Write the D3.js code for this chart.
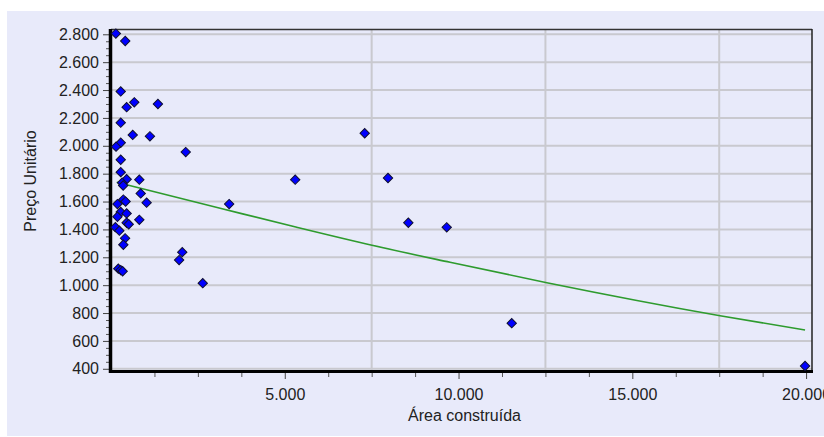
<!DOCTYPE html>
<html>
<head>
<meta charset="utf-8">
<script src="https://cdn.jsdelivr.net/npm/d3@7"></script>
<style>
  html, body { margin: 0; padding: 0; background: #ffffff; }
  svg { display: block; }
  text { font-family: "Liberation Sans", Arial, sans-serif; }
</style>
</head>
<body>
<svg id="chart" width="824" height="437"></svg>
<script>
// Observed samples: built area (m²) vs. unit price
const area = [140, 410, 280, 450, 670, 1350, 280, 625, 1120, 280, 145, 2150, 280, 280,
  450, 815, 320, 350, 855, 1025, 355, 420, 185, 280, 450, 185, 815, 450, 510, 125,
  240, 405, 355, 210, 280, 335, 2050, 1960, 2640, 3400, 5300, 7300, 7970, 8555,
  9660, 11530, 19970];
const unitPrice = [2805, 2752, 2390, 2277, 2312, 2300, 2166, 2078, 2068, 2022, 1994, 1955,
  1900, 1811, 1760, 1757, 1735, 1715, 1658, 1592, 1614, 1600, 1582, 1525, 1515, 1491,
  1469, 1448, 1437, 1416, 1391, 1336, 1290, 1118, 1108, 1100, 1237, 1180, 1014, 1582,
  1757, 2090, 1769, 1448, 1415, 727, 420];

// Fitted trend curve, sampled along its length
const trendArea = [165, 3140, 5345, 7510, 9755, 12540, 17525, 19970];
const trendPrice = [1738, 1552, 1415, 1286, 1164, 1018, 781, 678];

// Axis ticks
const xTickValues = [5000, 10000, 15000, 20000];
const xGridValues = [7500, 12500, 17500];
const yTickValues = [400, 600, 800, 1000, 1200, 1400, 1600, 1800, 2000, 2200, 2400, 2600, 2800];

const xTitle = "Área construída";
const yTitle = "Preço Unitário";

const ptBR = d3.formatLocale({ decimal: ",", thousands: ".", grouping: [3], currency: ["R$", ""] });
const fmt = ptBR.format(",d");

const svg = d3.select("#chart");
const plot = { left: 111, right: 812, top: 29, bottom: 372 };

const x = d3.scaleLinear().domain([0, 20170]).range([plot.left, plot.right]);
const y = d3.scaleLinear().domain([377, 2838]).range([plot.bottom, plot.top]);

// Panel background
svg.append("rect")
  .attr("x", 7).attr("y", 11).attr("width", 824 - 7).attr("height", 436 - 11)
  .attr("fill", "#e8eafa");

// Grid
const grid = svg.append("g").attr("stroke", "#c9c9cf").attr("stroke-width", 2);
grid.selectAll("line.h").data(yTickValues).join("line")
  .attr("class", "h")
  .attr("x1", plot.left).attr("x2", plot.right)
  .attr("y1", d => y(d)).attr("y2", d => y(d));
grid.selectAll("line.v").data(xGridValues).join("line")
  .attr("class", "v")
  .attr("x1", d => x(d)).attr("x2", d => x(d))
  .attr("y1", plot.top).attr("y2", plot.bottom);

// Minor ticks
const yMinor = d3.range(400, 2801, 50).filter(v => v % 200 !== 0);
const xMinor = d3.range(1250, 20001, 1250).filter(v => v % 5000 !== 0);

svg.append("g")
  .attr("transform", `translate(109,0)`)
  .call(d3.axisLeft(y).tickValues(yMinor).tickSize(3).tickFormat("").tickSizeOuter(0))
  .call(g => g.select(".domain").remove())
  .call(g => g.selectAll("line").attr("stroke", "#555"));

svg.append("g")
  .attr("transform", `translate(0,373)`)
  .call(d3.axisBottom(x).tickValues(xMinor).tickSize(4).tickFormat("").tickSizeOuter(0))
  .call(g => g.select(".domain").remove())
  .call(g => g.selectAll("line").attr("stroke", "#555"));

// Major ticks and labels
svg.append("g")
  .attr("transform", `translate(109,0)`)
  .call(d3.axisLeft(y).tickValues(yTickValues).tickSize(6).tickPadding(4).tickFormat(fmt).tickSizeOuter(0))
  .call(g => g.select(".domain").remove())
  .call(g => g.selectAll("line").attr("stroke", "#444"))
  .call(g => g.selectAll("text").attr("font-size", 16).attr("fill", "#222")
    .attr("font-family", '"Liberation Sans", Arial, sans-serif'));

svg.append("g")
  .attr("transform", `translate(0,373)`)
  .call(d3.axisBottom(x).tickValues(xTickValues).tickSize(6).tickPadding(9.5).tickFormat(fmt).tickSizeOuter(0))
  .call(g => g.select(".domain").remove())
  .call(g => g.selectAll("line").attr("stroke", "#444"))
  .call(g => g.selectAll("text").attr("font-size", 16).attr("fill", "#222")
    .attr("font-family", '"Liberation Sans", Arial, sans-serif'));

// Plot frame: heavy left/bottom axes, thin top/right edges
svg.append("line").attr("x1", plot.left).attr("x2", plot.right).attr("y1", 29.5).attr("y2", 29.5)
  .attr("stroke", "#333").attr("stroke-width", 1.5);
svg.append("line").attr("x1", 812).attr("x2", 812).attr("y1", 29).attr("y2", 373)
  .attr("stroke", "#222").attr("stroke-width", 1.5);
svg.append("line").attr("x1", 110.5).attr("x2", 110.5).attr("y1", 29).attr("y2", 373)
  .attr("stroke", "#000").attr("stroke-width", 3.5);
svg.append("line").attr("x1", 109).attr("x2", 813).attr("y1", 371.5).attr("y2", 371.5)
  .attr("stroke", "#000").attr("stroke-width", 3);

// Trend curve
const trend = trendArea.map((a, i) => [a, trendPrice[i]]);
svg.append("path")
  .datum(trend)
  .attr("fill", "none")
  .attr("stroke", "#2e9b2e")
  .attr("stroke-width", 1.6)
  .attr("d", d3.line().x(d => x(d[0])).y(d => y(d[1])).curve(d3.curveMonotoneX));

// Sample points as diamonds
const points = area.map((a, i) => [a, unitPrice[i]]);
const diamond = d3.symbol().type(d3.symbolSquare).size(44);
svg.append("g").selectAll("path").data(points).join("path")
  .attr("d", diamond)
  .attr("transform", d => `translate(${x(d[0])},${y(d[1])}) rotate(45)`)
  .attr("fill", "#0000ff")
  .attr("stroke", "#101030")
  .attr("stroke-width", 1);

// Axis titles
svg.append("text")
  .attr("x", x(10000) + (x(20170) - x(20000)) / 2 + 3)
  .attr("y", 421)
  .attr("text-anchor", "middle")
  .attr("font-size", 16)
  .attr("fill", "#222")
  .text(xTitle);

svg.append("text")
  .attr("transform", "translate(36,181) rotate(-90)")
  .attr("text-anchor", "middle")
  .attr("font-size", 16)
  .attr("fill", "#222")
  .text(yTitle);
</script>
</body>
</html>
